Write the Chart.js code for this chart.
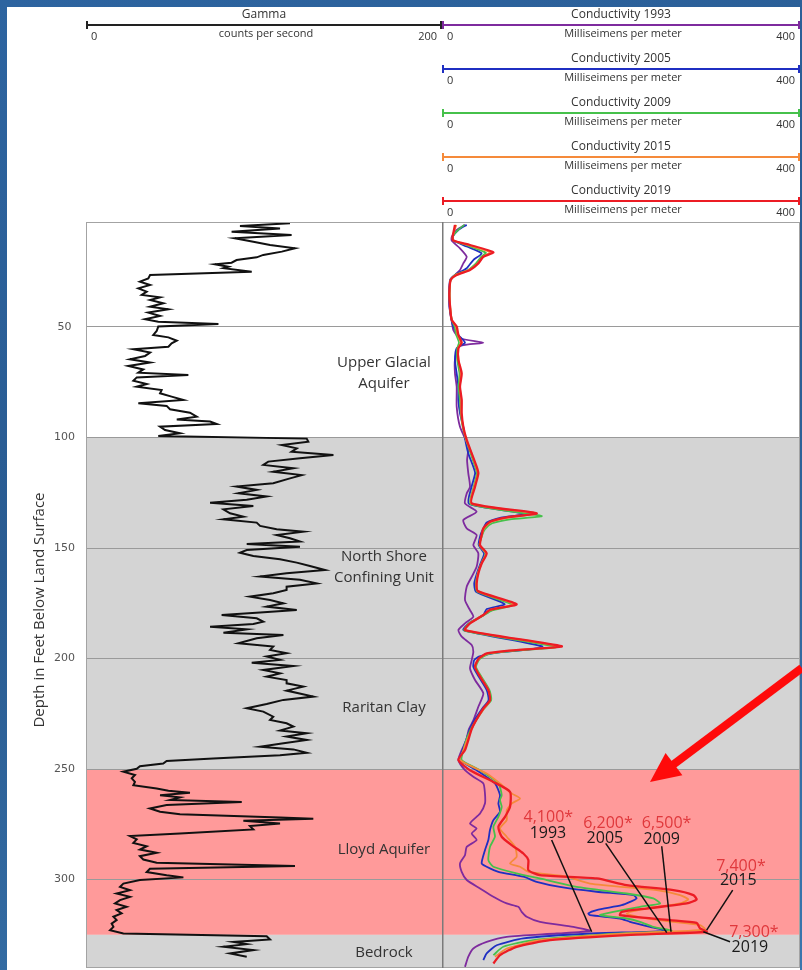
<!DOCTYPE html>
<html>
<head>
<meta charset="utf-8">
<title>Gamma and conductivity logs</title>
<script src="https://cdn.jsdelivr.net/npm/chart.js@4.4.1/dist/chart.umd.min.js"></script>
<style>
  html, body { margin: 0; padding: 0; }
  body {
    width: 802px; height: 970px; position: relative; overflow: hidden;
    background: linear-gradient(160deg, #2d64a0 0%, #295b91 45%, #3a76ae 100%);
  }
  #panel { position: absolute; left: 7px; top: 7px; width: 793px; height: 963px; background: #fff; }
  #gammaChart { position: absolute; left: 0; top: 0; }
  #condChart { position: absolute; left: 442px; top: 0; }
</style>
</head>
<body>
<div id="panel"></div>
<canvas id="gammaChart" width="442" height="970"></canvas>
<canvas id="condChart" width="360" height="970"></canvas>
<script>
// depth axis (feet below land surface)
const depthRange = [2.5, 340];
const depthTicks = [50, 100, 150, 200, 250, 300];
const zoneBreaks = [100, 250, 325];

const gammaRange = [0, 200];
const condRange = [0, 400];

const unitNames = [["Upper Glacial", "Aquifer"], ["North Shore", "Confining Unit"], ["Raritan Clay"], ["Lloyd Aquifer"], ["Bedrock"]];
const unitDepths = [71, 158.6, 222.3, 286.3, 333.1];

const condYears = ["1993", "2005", "2009", "2015", "2019"];
const peakValues = ["4,100*", "6,200*", "6,500*", "7,400*", "7,300*"];

// gamma log: [depth ft, counts per second]
const gammaLog = [
  [3.1,114.6],[4.3,86.5],[5.4,109],[6.9,81.8],[8.4,115.5],[9.9,83.7],[11.4,94],[12.9,103.4],[14.4,117.4],[15.9,110],
  [17.4,99.6],[18.5,95.9],[19.7,84.6],[20.9,81.8],[21.6,72.5],[22.7,80],[23.4,77.2],[25,93.1],[26.5,36],[28,35],
  [29.5,30.3],[31,36],[32.5,29.4],[34,34.1],[35.5,31.3],[36.6,41.6],[37.8,36],[39.3,43.4],[40.8,36],[42,46.3],
  [43.5,35],[45,41.6],[46.5,33.2],[47.6,40.6],[48.6,74.4],[49.8,40.6],[51.8,39.7],[53.6,37.8],[54.7,46.3],[56.2,51],
  [57.4,48.1],[58.9,46.3],[60.1,26.6],[61.6,36],[63.1,33.2],[64.6,24.7],[66.1,36],[67.6,23.8],[69.2,32.2],[70.7,29.4],
  [71.7,57.5],[72.8,28.5],[74.3,26.6],[75.8,34.1],[77,28.5],[78.5,42.5],[80,41.6],[81.5,48.1],[83,54.7],[84.5,29.4],
  [85.7,45.3],[87.2,47.2],[88.8,58.4],[90.6,62.2],[91.8,51],[92.8,69.7],[93.9,73.4],[95.1,41.6],[96.6,44.4],[98.1,52.8],
  [99.3,40.6],[100.5,124],[101.9,124.9],[103.4,110],[104.9,118.4],[106.4,115.5],[107.9,139],[109.4,120.2],[110.9,102.4],[112.4,99.6],
  [113.9,116.5],[115.5,105.2],[117,121.2],[118.5,114.6],[120.7,105.2],[122.2,84.6],[123.7,95.9],[125.2,85.6],[126.7,101.5],[128.2,90.3],
  [129.5,69.7],[131,94],[132.5,77.2],[134.3,80.9],[135.8,88.4],[137,77.2],[138.5,95.9],[140,97.8],[141.5,107.1],[142.6,122.1],
  [144.1,107.1],[145.6,114.6],[147.1,120.2],[148.2,90.3],[149.4,120.2],[150.9,90.3],[152.1,86.5],[153.6,94],[155.1,109],[156.6,118.4],
  [158.1,125.8],[159.9,134.3],[161.4,112.7],[162.9,97.8],[164.4,120.2],[166,129.6],[167.5,112.7],[169,112.7],[170.5,105.2],[172,92.1],
  [173.5,103.4],[175,110.9],[176.5,101.5],[178,118.4],[179.2,97.8],[180.3,76.2],[181.8,95.9],[183.3,99.6],[184.4,94],[185.6,69.7],
  [186.8,90.3],[188.3,77.2],[189.3,110.9],[190.8,95.9],[193.1,85.6],[194.6,105.2],[196.1,103.4],[197.6,112.7],[199.1,101.5],[200.6,109],
  [201.9,93.1],[203.4,116.5],[205.2,99.6],[206.7,109],[208.2,101.5],[209.7,112.7],[211.2,112.7],[212.7,122.1],[214.5,112.7],[217.2,127.7],
  [218.7,110.9],[220.6,101.5],[222.5,90.3],[224,99.6],[226.3,105.2],[227.8,103.4],[229.3,112.7],[230.8,116.5],[232.6,109],[233.8,124],
  [235.3,112.7],[236.8,124],[238.4,110],[239.9,97.8],[241.1,116.5],[242.6,124],[243.7,109],[245.2,71.5],[246.3,45.3],[247.5,43.4],
  [248.7,30.3],[249.9,28.5],[251.2,21],[252.7,27.5],[254.2,25.7],[255.8,27.5],[257.3,26.6],[258.8,39.7],[259.8,46.3],[260.7,58.4],
  [261.8,41.6],[262.8,52.8],[264,47.2],[264.9,87.5],[266.3,45.3],[267.8,35.9],[269.3,41.6],[270.4,52.8],[271.9,109],[272.5,127.7],
  [273.4,88.4],[274.6,109],[275.8,92.1],[277.3,94],[279.1,52.8],[280.3,24.7],[281.8,28.5],[283.4,26.6],[284.9,34.1],[286.4,30.3],
  [287.9,39.7],[289.4,30.3],[290.9,32.2],[292.4,39.7],[293.9,117.4],[295.1,35.9],[296.6,34.1],[298,45.3],[299,54.7],[300.2,30.3],
  [301.8,21],[303.3,19.1],[304.8,24.7],[306.3,17.2],[307.8,24.7],[309.3,19.1],[310.8,16.3],[312.3,22.8],[313.8,17.2],[315.3,20],
  [316.8,15.4],[318.3,17.2],[319.9,14.4],[321.4,15.4],[322.9,13.5],[324.4,21],[325.6,101.5],[327.1,103.4],[328.2,82.8],[329.2,90.3],
  [330.4,77.2],[331.9,94],[333.4,80.9],[334.9,90.3]
];

// conductivity logs: [depth ft, millisiemens per meter]
const cond1993 = [
  [3.8,25.7],[6.1,16.4],[9.1,11],[10.9,10.8],[14.4,20.1],[18.2,27.6],[21.2,23.8],[24.2,20.1],[27.2,12.7],[29.5,9],
  [40.8,8.2],[46.8,10.8],[51.4,12.7],[55.1,20.1],[57.1,46.2],[58.6,20.1],[64.9,14.5],[71,14.5],[77,16.4],[86,16.4],
  [95.1,20.1],[104.1,29.4],[110.2,28],[116.2,29.4],[122.3,31.3],[125.3,27.6],[129.8,25.7],[133.6,38.7],[137.3,23.8],[141.1,27.6],
  [144.1,38.7],[148.7,35],[152.4,40.6],[158.5,38.7],[163,33.2],[167.5,27.6],[173.6,25.7],[178.1,31.3],[181.1,35],[184.1,25.7],
  [187.1,18.3],[190.1,22],[193.9,33.2],[196.9,35],[200.7,33.2],[204.5,31.3],[209.7,36.9],[215.8,46.2],[221.8,40.6],[228,35],
  [232,30],[236.9,27],[241.4,22],[245.9,18.3],[250.5,25.7],[253.5,35],[256.5,46.2],[261,48],[265.6,48],[270.1,42.5],
  [274.6,31.3],[276.9,38.7],[279.1,33.2],[282.1,38.7],[285.2,27.6],[288.9,25.7],[292.7,20.1],[296.5,22],[300.2,27.6],[304,42.5],
  [307.8,57.4],[310.8,72.3],[312.3,85.3],[314.6,89],[316.8,94.6],[319.1,109.5],[321.4,146.7],[323.2,165.4],[324.4,128.1],[325.9,72.3],
  [328.2,49.9],[331.2,35],[334.9,29.4],[339.5,25.7]
];
const cond2005 = [
  [3.8,27.6],[6.1,18.3],[9.1,12],[10.9,13],[13.6,27.6],[16.7,44.3],[19.7,35],[23.4,27.6],[26.5,14.5],[28.7,9],
  [34.8,8],[40.8,8.5],[46.8,10.5],[49.8,12.7],[53.6,18.3],[57.1,25.7],[59.6,16.4],[64.9,14.5],[71,16.4],[77,18.3],
  [83,18.3],[89.1,20.1],[95.1,23.8],[101.1,26],[107.2,29.4],[113.2,35],[116.2,37],[122.3,33],[130,30],[134.5,92],
  [136.3,66],[138.5,50],[141.1,46.2],[144.1,43],[148.7,41],[152.4,47],[157,43],[161.5,39],[166,36],[169.8,38],
  [175.4,70],[177.6,50],[180.3,46.2],[184.1,30],[187.1,24],[194.5,112],[196,96],[197.3,62],[199,42],[200.7,36],
  [203.7,35],[208.2,41],[214.3,50],[218.8,52],[222.6,45],[228,36],[232,31],
  [236.9,27],[241.4,23],[245.9,20.1],[250.5,38.7],[256.5,59.2],[261.8,64.8],[265.6,63],[269.3,64.8],[273.1,57.4],[277.6,53.6],
  [282.1,51.8],[286.7,48],[292.7,44.3],[294.2,49.9],[296.5,63],[298.7,90.9],[301,105.8],[303.3,131.8],[305.5,172.8],[307,213.8],
  [308.5,217.5],[310.1,210],[311.6,200.7],[313.8,172.8],[315.3,163.5],[316.1,165.4],[317.6,198.9],[319.1,210],[321.4,232.4],[323.2,251],
  [324.4,165.4],[326.6,90.9],[329.7,61.1],[333.4,49.9],[336.4,46.2]
];
const cond2009 = [
  [3.8,25],[6.1,18],[9.1,12],[10.9,12.5],[12.9,27],[16.4,49],[18.2,44],[21.2,38],[24.2,29],[26.5,14.5],
  [28.7,9.5],[34.8,8.5],[40.8,9],[46.8,11],[49.8,14],[53.6,16],[57.1,19],[59.6,17],[64.9,17],[71,19.5],
  [77,18.5],[83,20],[89.1,21],[95.1,23],[101.1,27],[107.2,32],[113.2,37],[116.2,39],[122.3,35.5],[130.2,32],
  [135.5,111.4],[137,76],[138.8,56],[141.5,48],[144.1,45],[148.7,42],[152.4,48.5],[157,44],[161.5,40],[166,38],
  [169.8,39.5],[175.7,79],[178.2,56],[180.6,46],[184.1,30],[187.4,25],[194.7,128],[195.8,100],[196.9,70],[198.1,51],
  [200.3,42],[203.7,38],[208.2,44],[214.3,53],[218.8,55],[222.6,47],[228,38],[232,32],
  [236.9,27],[241.4,24],[245.9,22],[250.5,42.5],[256.5,63],[261.8,66.7],[264,64.8],[267.1,66.7],[271.6,63],[276.1,57.4],
  [280.6,59.2],[285.2,53.6],[291.2,51.8],[294.2,57.4],[297.2,83.4],[300.2,117],[303.3,150.5],[306.3,206.3],[308.5,236.1],[310.8,243.6],
  [312.3,221.2],[314.6,191.4],[316.1,176.5],[317.6,206.3],[319.1,221.2],[321.4,236.1],[323.2,256.6],[324.7,184],[327.4,102],[330.4,68.5],
  [334.2,57.4]
];
const cond2015 = [
  [3.8,16],[6.1,14],[9.1,12],[10.9,13],[12.9,29],[16.2,54],[18.2,46],[21.2,40],[24.2,30],[26.5,15],
  [28.7,9.7],[34.8,8.5],[40.8,9.2],[46.8,11],[49.8,15.5],[53.6,17.5],[57.1,21],[59.6,18],[64.9,18.5],[71,21],
  [77,20],[83,21.5],[89.1,21.5],[95.1,23.5],[101.1,27],[107.2,33],[113.2,38],[116.2,40],[122.3,36],[129.8,32.5],
  [134.4,104],[136.2,74],[138.1,55],[141.1,47],[144.1,44.5],[148.7,42],[152.4,49],[157,44],[161.5,40],[166,38.5],
  [169.5,40],[175.4,80],[177.9,55],[180.3,46],[184.1,31],[187.1,26],[194.5,131],[195.5,105],[196.6,72],[197.8,51],
  [200,41.5],[203.7,37],[208.2,43],[214.3,52],[218.8,54],[222.6,47],[228,38],[232,33],
  [236.9,28],[241.4,24],[245.9,20.1],[252,49.9],[256.5,64.8],[261,77.8],[263.3,87.2],[265.6,77.8],[268.6,72.3],[273.1,72.3],
  [276.9,64.8],[280.6,72.3],[285.2,81.6],[289.7,83.4],[292.7,76],[294.2,87.2],[296.5,96.5],[298.7,139.3],[301.8,165.4],[304.8,239.9],
  [307,265.9],[309,275.2],[310.8,265.9],[313.1,228.7],[315.3,206.3],[317.6,228.7],[319.1,258.5],[320.6,288.3],[322.6,293.9],[324.4,206.3],
  [327.4,109.5],[331.2,72.3],[334.9,59.2]
];
const cond2019 = [
  [3.8,14.5],[6.1,13.4],[9.1,11.9],[10.9,12.7],[12.9,31.3],[16.2,57.4],[18.2,46.2],[21.2,40.6],[24.2,31.3],[26.5,16.4],
  [28.7,9.7],[34.8,8.2],[40.8,9],[46.8,10.8],[49.8,16.4],[53.6,18.3],[57.1,22],[59.6,18.3],[64.9,18.3],[71,22],
  [77,20.1],[83,22],[89.1,22],[95.1,23.8],[101.1,27.6],[107.2,33.2],[113.2,38.7],[116.2,40.6],[122.3,36.9],[129.8,33.2],
  [134.3,105.8],[136.1,72.3],[138.1,53.6],[141.1,46.2],[144.1,44.3],[148.7,42.5],[152.4,49.9],[157,44.3],[161.5,40.6],[166,38.7],
  [169.5,40],[175.4,83.4],[177.9,54],[180.3,46.2],[184.1,31.3],[187.1,25.7],[194.4,133.7],[195.4,109],[196.5,72.3],[197.7,50],
  [200,41],[203.7,36.9],[208.2,42.5],[214.3,51.8],[218.8,53.6],[222.6,46.2],[228,38],[232,33],
  [236.9,29.4],[241.4,25.7],[245.9,18.3],[250.5,31.3],[255.8,57.4],[260.3,76],[267.1,76],[271.6,70.4],[276.1,63],[280.6,66.7],
  [284.4,77.8],[288.2,90.9],[291.2,96.5],[295.7,96.5],[298,109.5],[299.5,172.8],[302.5,206.3],[304.8,258.5],[307,280.8],[309,284.5],
  [310.8,273.4],[313.1,228.7],[314.6,200.7],[316.1,198.9],[318.3,254.7],[319.6,284.5],[322.1,288.3],[323.6,295.7],[325.1,206.3],[327.4,120.7],
  [330.4,83.4],[334.2,64.8],[338,57.4]
];

const condLogs = [cond1993, cond2005, cond2009, cond2015, cond2019];
const condColors = ["#7e2b9e", "#1f2fc2", "#46c14b", "#f58a3a", "#ec1c24"];

Chart.defaults.font.family = '"Open Sans", sans-serif';

const toPoints = log => log.map(([d, v]) => ({ x: v, y: d }));

function depthScale(showLabels) {
  return {
    type: "linear",
    reverse: true,
    min: depthRange[0],
    max: depthRange[1],
    afterFit: s => {
      s.width = showLabels ? 86 : 0;
      s.paddingTop = 0;
      s.paddingBottom = 0;
    },
    afterBuildTicks: s => { s.ticks = depthTicks.map(v => ({ value: v })); },
    grid: { color: "#9a9a9a", lineWidth: 1, drawTicks: false },
    border: { display: false },
    ticks: {
      display: showLabels,
      padding: 11,
      crossAlign: "center",
      color: "#555",
      font: { family: "DejaVu Sans", size: 11 }
    }
  };
}

// zone shading behind the grid
const zonePlugin = {
  id: "zones",
  beforeDraw(chart) {
    const { ctx, chartArea: a, scales: { y } } = chart;
    const colors = ["#ffffff", "#d4d4d4", "#ff9a9a", "#d4d4d4"];
    const edges = [depthRange[0], ...zoneBreaks, depthRange[1]];
    ctx.save();
    for (let i = 0; i < edges.length - 1; i++) {
      const y1 = y.getPixelForValue(edges[i]);
      const y2 = y.getPixelForValue(edges[i + 1]);
      ctx.fillStyle = colors[i];
      ctx.fillRect(a.left, y1, a.right - a.left, y2 - y1);
    }
    ctx.restore();
  }
};

function framePlugin(withDivider) {
  return {
    id: "frame",
    afterDatasetsDraw(chart) {
      const { ctx, chartArea: a } = chart;
      ctx.save();
      ctx.strokeStyle = "#a3a3a3";
      ctx.lineWidth = 1;
      ctx.beginPath();
      ctx.moveTo(a.left + 0.5, a.top + 0.5);
      ctx.lineTo(a.right, a.top + 0.5);
      ctx.moveTo(a.left + 0.5, a.bottom - 0.5);
      ctx.lineTo(a.right, a.bottom - 0.5);
      if (withDivider) {
        ctx.moveTo(a.right - 0.5, a.top);
        ctx.lineTo(a.right - 0.5, a.bottom);
      } else {
        ctx.moveTo(a.left + 0.5, a.top);
        ctx.lineTo(a.left + 0.5, a.bottom);
      }
      ctx.stroke();
      if (withDivider) {
        ctx.strokeStyle = "#7a7a7a";
        ctx.lineWidth = 1.5;
        ctx.beginPath();
        ctx.moveTo(a.left + 0.75, a.top);
        ctx.lineTo(a.left + 0.75, a.bottom);
        ctx.stroke();
      }
      ctx.restore();
    }
  };
}

function drawAxisHeader(ctx, x0, x1, lineY, color, title, units, lo, hi) {
  ctx.save();
  ctx.strokeStyle = color;
  ctx.lineWidth = 2;
  ctx.beginPath();
  ctx.moveTo(x0, lineY);
  ctx.lineTo(x1, lineY);
  ctx.moveTo(x0 + 1, lineY - 4);
  ctx.lineTo(x0 + 1, lineY + 4);
  ctx.moveTo(x1 - 1, lineY - 4);
  ctx.lineTo(x1 - 1, lineY + 4);
  ctx.stroke();
  ctx.fillStyle = "#333";
  ctx.textBaseline = "middle";
  ctx.textAlign = "center";
  ctx.font = '12px "Open Sans"';
  ctx.fillText(title, (x0 + x1) / 2, lineY - 10);
  ctx.font = '11px "Open Sans"';
  ctx.fillText(units, (x0 + x1) / 2 + 2, lineY + 9);
  ctx.textAlign = "left";
  ctx.fillText(lo, x0 + 5, lineY + 12);
  ctx.textAlign = "right";
  ctx.fillText(hi, x1 - 5, lineY + 12);
  ctx.restore();
}

const gammaDecor = {
  id: "gammaDecor",
  afterDraw(chart) {
    const { ctx, scales: { x, y } } = chart;
    drawAxisHeader(ctx, x.getPixelForValue(gammaRange[0]), x.getPixelForValue(gammaRange[1]), 25,
      "#222", "Gamma", "counts per second", String(gammaRange[0]), String(gammaRange[1]));

    ctx.save();
    ctx.fillStyle = "#333";
    ctx.font = '15px "Open Sans"';
    ctx.textAlign = "center";
    ctx.textBaseline = "middle";
    unitNames.forEach((lines, i) => {
      const cy = y.getPixelForValue(unitDepths[i]);
      lines.forEach((t, j) => {
        ctx.fillText(t, x.getPixelForValue(167.4), cy + (j - (lines.length - 1) / 2) * 21);
      });
    });
    ctx.translate(40, 610);
    ctx.rotate(-Math.PI / 2);
    ctx.fillText("Depth in Feet Below Land Surface", 0, 0);
    ctx.restore();
  }
};

// callout layout, in [conductivity, depth] units
const callout = {
  value: [[118.8, 271.7], [185.5, 274.4], [251, 274.4], [334, 293.9], [348.5, 323.8]],
  year: [[118.4, 279], [182, 281.2], [245.5, 281.7], [331, 300.2], [344, 330.5]],
  from: [[122.5, 282.1], [182.9, 283.6], [245.5, 284.9], [324.8, 304.8], [321.8, 328.1]],
  to: [[167.2, 323.6], [251.1, 324], [255.9, 323.6], [295.7, 322.9], [292, 323.6]],
  arrowTail: [402, 204.3],
  arrowTip: [232.4, 255.9]
};

const condDecor = {
  id: "condDecor",
  afterDatasetsDraw(chart) {
    const { ctx, scales: { x, y } } = chart;
    const px = p => [x.getPixelForValue(p[0]), y.getPixelForValue(p[1])];
    ctx.save();
    ctx.strokeStyle = "#111";
    ctx.lineWidth = 1.5;
    callout.from.forEach((f, i) => {
      const a = px(f), b = px(callout.to[i]);
      ctx.beginPath();
      ctx.moveTo(a[0], a[1]);
      ctx.lineTo(b[0], b[1]);
      ctx.stroke();
    });
    ctx.font = '16px "Open Sans"';
    ctx.textAlign = "center";
    ctx.textBaseline = "middle";
    peakValues.forEach((t, i) => {
      const p = px(callout.value[i]);
      ctx.fillStyle = "#e0383c";
      ctx.fillText(t, p[0], p[1]);
      const q = px(callout.year[i]);
      ctx.fillStyle = "#1a1a1a";
      ctx.fillText(condYears[i], q[0], q[1]);
    });

    // red arrow pointing at the Lloyd aquifer
    const tail = px(callout.arrowTail), tip = px(callout.arrowTip);
    const dx = tip[0] - tail[0], dy = tip[1] - tail[1];
    const len = Math.hypot(dx, dy), ux = dx / len, uy = dy / len;
    const bx = tip[0] - ux * 30, by = tip[1] - uy * 30;
    ctx.strokeStyle = "#ff0a0a";
    ctx.fillStyle = "#ff0a0a";
    ctx.lineWidth = 8;
    ctx.beginPath();
    ctx.moveTo(tail[0], tail[1]);
    ctx.lineTo(bx + ux * 2, by + uy * 2);
    ctx.stroke();
    ctx.beginPath();
    ctx.moveTo(tip[0], tip[1]);
    ctx.lineTo(bx - uy * 14, by + ux * 14);
    ctx.lineTo(bx + uy * 14, by - ux * 14);
    ctx.closePath();
    ctx.fill();
    ctx.restore();
  },
  afterDraw(chart) {
    const { ctx, scales: { x } } = chart;
    chart.data.datasets.forEach((ds, i) => {
      drawAxisHeader(ctx, x.getPixelForValue(condRange[0]), x.getPixelForValue(condRange[1]), 25 + 44 * i,
        ds.borderColor, ds.label, "Milliseimens per meter", String(condRange[0]), String(condRange[1]));
    });
  }
};

new Chart(document.getElementById("gammaChart"), {
  type: "scatter",
  data: {
    datasets: [{
      label: "Gamma",
      data: toPoints(gammaLog),
      showLine: true,
      borderColor: "#111",
      borderWidth: 2,
      pointRadius: 0,
      tension: 0
    }]
  },
  options: {
    responsive: false,
    animation: false,
    events: [],
    layout: { padding: { top: 222, bottom: 2, left: 0, right: 0 } },
    plugins: { legend: { display: false }, tooltip: { enabled: false } },
    scales: {
      x: { type: "linear", min: gammaRange[0], max: gammaRange[1], display: false },
      y: depthScale(true)
    }
  },
  plugins: [zonePlugin, framePlugin(false), gammaDecor]
});

new Chart(document.getElementById("condChart"), {
  type: "scatter",
  data: {
    datasets: condLogs.map((log, i) => ({
      label: "Conductivity " + condYears[i],
      data: toPoints(log),
      showLine: true,
      borderColor: condColors[i],
      borderWidth: i === 4 ? 2.3 : 1.8,
      pointRadius: 0,
      tension: 0.2,
      order: condLogs.length - i
    }))
  },
  options: {
    responsive: false,
    animation: false,
    events: [],
    layout: { padding: { top: 222, bottom: 2, left: 0, right: 2 } },
    plugins: { legend: { display: false }, tooltip: { enabled: false } },
    scales: {
      x: { type: "linear", min: condRange[0], max: condRange[1], display: false },
      y: depthScale(false)
    }
  },
  plugins: [zonePlugin, framePlugin(true), condDecor]
});
</script>
</body>
</html>
